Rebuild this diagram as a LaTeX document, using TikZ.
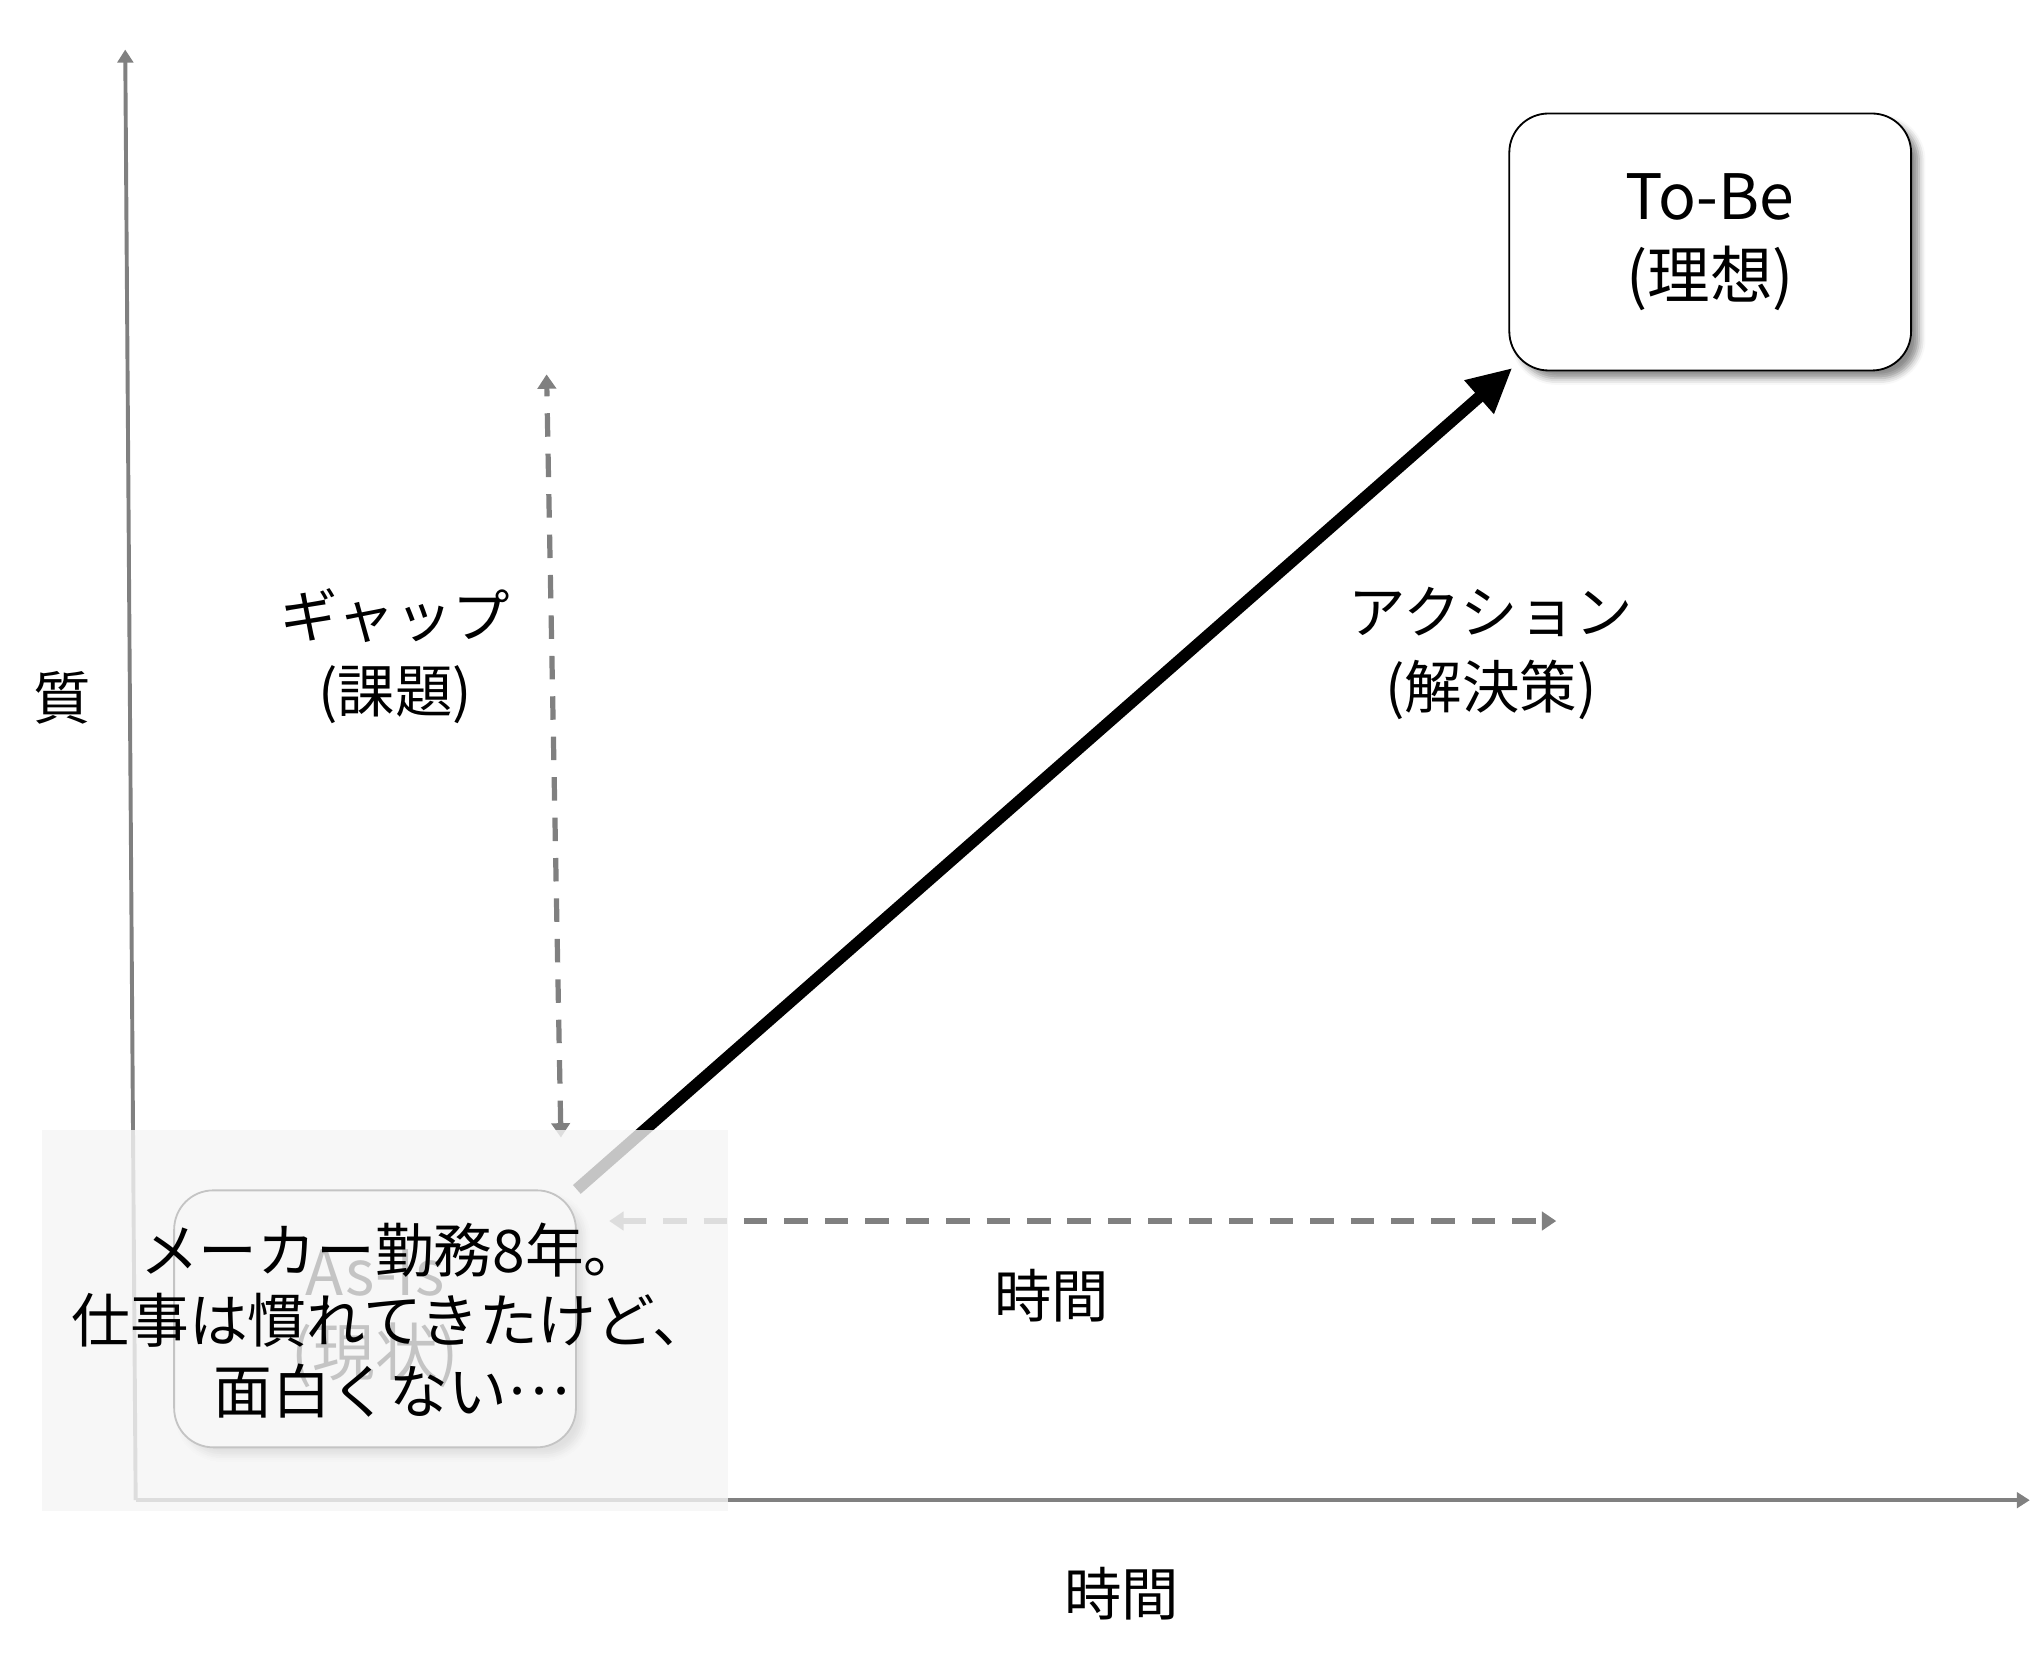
\documentclass[tikz,border=0pt]{standalone}
\usepackage{fontspec}
\setmainfont{Noto Sans CJK JP}
\usetikzlibrary{arrows.meta,shadows.blur}

\definecolor{axisgray}{HTML}{808080}
\definecolor{veilgray}{HTML}{F5F5F5}

\tikzset{
  axisline/.style={draw=axisgray, line width=3pt, -{Triangle[length=10pt,width=12pt]}},
  gapline/.style={draw=axisgray, line width=4pt, dash pattern=on 18pt off 13pt,
    {Triangle[length=11pt,width=14pt]}-{Triangle[length=11pt,width=14pt]}},
  statebox/.style={draw=black, line width=1.4pt, fill=white, rounded corners=30pt,
    minimum width=308pt, minimum height=197pt, align=center,
    blur shadow={shadow xshift=6pt, shadow yshift=-6pt, shadow blur radius=5pt, shadow opacity=45}},
  lbl/.style={inner sep=0pt, align=center, font=\fontsize{44}{57}\selectfont}
}

\begin{document}
\begin{tikzpicture}[x=1pt, y=-1pt]
\useasboundingbox (0,0) rectangle (1560,1271);

%% axes
\coordinate (origin) at (104,1150);
\coordinate (ytop) at (96,38);
\coordinate (xend) at (1556,1150);
\draw[axisline] (origin) -- (ytop);
\draw[axisline] (origin) -- (xend);

%% axis labels
\node[lbl] (quality) at (48,535) {質};
\node[lbl] (timeaxis) at (860,1222) {時間};

%% states
\node[statebox, font=\fontsize{48}{61}\selectfont] (tobe) at (1311,185.5) {To-Be\\(理想)};
\node[statebox, font=\fontsize{48}{61}\selectfont] (asis) at (287.5,1011) {As-Is\\(現状)};

%% gap and time
\coordinate (gaptop) at (419,287);
\coordinate (gapbot) at (430,872);
\draw[gapline] (gapbot) -- (gaptop);
\coordinate (timeleft) at (467,936);
\coordinate (timeright) at (1193,936);
\draw[gapline] (timeleft) -- (timeright);

\node[lbl] (gap) at (303,503) {ギャップ\\(課題)};
\node[lbl] (timegap) at (806,993) {時間};

%% action
\draw[line width=9pt, -{Triangle[length=34pt,width=32pt]}, shorten >=-4pt] (asis.north east) -- (tobe.south west);
\node[lbl] (action) at (1143,501) {アクション\\(解決策)};

%% veil over the present state
\fill[veilgray, opacity=0.8] (32,866) rectangle (558,1158);
\node[lbl, font=\fontsize{45}{54}\selectfont] (now) at (300,1012)
  {メーカー勤務8年。\\仕事は慣れてきたけど、\\面白くない\raisebox{0.32em}{…}};
\end{tikzpicture}
\end{document}
